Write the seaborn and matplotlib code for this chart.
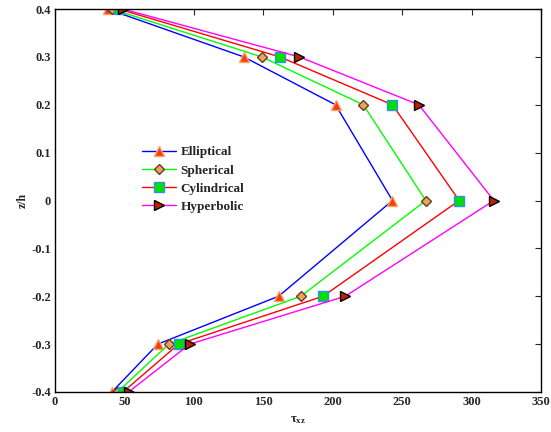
import matplotlib
matplotlib.use("Agg")
import matplotlib.pyplot as plt
import seaborn as sns
import pandas as pd

z = [0.4, 0.3, 0.2, 0.0, -0.2, -0.3, -0.4]
elliptical = [38, 136, 202, 243, 161, 74, 41]
spherical = [41, 149, 222, 267, 177, 82, 45]
cylindrical = [46, 162, 243, 291, 193, 89, 49]
hyperbolic = [49, 176, 262, 316, 209, 97, 53]
names = ["Elliptical", "Spherical", "Cylindrical", "Hyperbolic"]
xticks = [0, 50, 100, 150, 200, 250, 300, 350]
yticks = [-0.4, -0.3, -0.2, -0.1, 0, 0.1, 0.2, 0.3, 0.4]
yticklabels = ["-0.4", "-0.3", "-0.2", "-0.1", "0", "0.1", "0.2", "0.3", "0.4"]

sns.set_style("white")
plt.rcParams["font.family"] = ["Liberation Serif", "DejaVu Serif"]
plt.rcParams["font.weight"] = "bold"
plt.rcParams["mathtext.fontset"] = "custom"
plt.rcParams["mathtext.rm"] = "Liberation Serif:bold"
plt.rcParams["mathtext.it"] = "Liberation Serif:bold"
plt.rcParams["mathtext.bf"] = "Liberation Serif:bold"

fig = plt.figure(figsize=(5.51, 4.32), dpi=100)
ax = fig.add_axes([0.0998, 0.0926, 0.8822, 0.8864])

styles = [
    dict(color="#0000ff", marker="^", mfc="#f04010", mec="#ffa060", ms=7),
    dict(color="#00ff00", marker="D", mfc="#f0a060", mec="#604020", ms=5),
    dict(color="#ff0000", marker="s", mfc="#00e000", mec="#3090f0", ms=6.5),
    dict(color="#ff00ff", marker=">", mfc="#c02000", mec="#000000", ms=7),
]
series = [elliptical, spherical, cylindrical, hyperbolic]
for name, vals, st in zip(names, series, styles):
    df = pd.DataFrame({"tau": vals, "z": z})
    sns.lineplot(data=df, x="tau", y="z", sort=False, estimator=None, ax=ax,
                 color=st["color"], marker=st["marker"], markerfacecolor=st["mfc"],
                 markeredgecolor=st["mec"], markersize=st["ms"], markeredgewidth=1,
                 linewidth=1.0, label=name)

ax.set_xlim(0, 350)
ax.set_ylim(-0.4, 0.4)
ax.set_xticks(xticks)
ax.set_xticklabels([str(t) for t in xticks])
ax.set_yticks(yticks)
ax.set_yticklabels(yticklabels)
ax.tick_params(direction="in", length=4, width=0.8, top=True, right=True,
               labelsize=9, pad=3)
for lab in ax.get_xticklabels() + ax.get_yticklabels():
    lab.set_fontweight("bold")
for s in ax.spines.values():
    s.set_color("black")
    s.set_linewidth(1.0)
ax.set_xlabel(r"$\tau_{xz}$", fontsize=9, labelpad=4)
ax.set_ylabel("z/h", fontsize=8.5, fontweight="bold", labelpad=2)

leg = ax.legend(loc="upper left", bbox_to_anchor=(0.179, 0.642), frameon=False,
                borderpad=0, borderaxespad=0,
                handlelength=2.6, handletextpad=0.3, labelspacing=0.45,
                prop={"weight": "bold", "size": 9.5, "family": "Liberation Serif"})

fig.savefig("out.png", dpi=100)
